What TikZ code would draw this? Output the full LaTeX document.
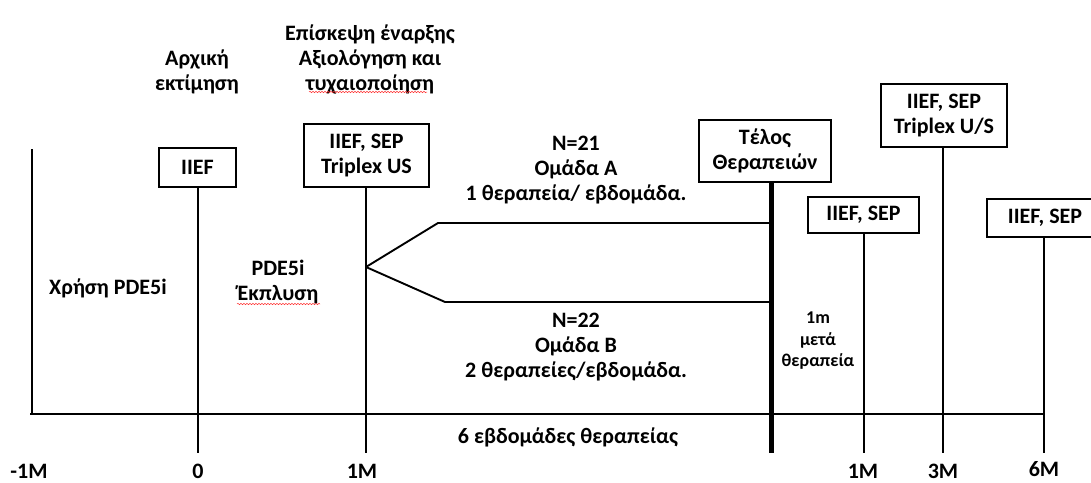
\documentclass[tikz,border=0pt]{standalone}
\usepackage{fontspec}
\setmainfont{Carlito}
\usetikzlibrary{decorations.pathmorphing}

\tikzset{
  every node/.style={font=\bfseries\fontsize{22}{25}\selectfont, align=center, inner sep=0pt},
  small/.style={font=\bfseries\fontsize{18}{21.5}\selectfont},
  box/.style={draw, line width=1.8pt, fill=white},
  line/.style={line width=1.9pt},
  thickline/.style={line width=5pt},
  squiggle/.style={draw=red!80!white, line width=0.5pt, decorate,
    decoration={snake, amplitude=0.7pt, segment length=3pt}},
}

\begin{document}
\begin{tikzpicture}[x=1pt, y=-1pt]
  \useasboundingbox (0,0) rectangle (1091,482);
  \clip (0,0) rectangle (1091,482);

  % assessment boxes
  \node[box, minimum width=77pt, minimum height=39pt] (b0) at (197.5,167.5) {IIEF};
  \node[box, minimum width=125pt, minimum height=63pt] (b1) at (366.5,155.5) {IIEF, SEP\\Triplex US};
  \node[box, minimum width=132pt, minimum height=62pt] (bend) at (765,151) {Τέλος\\Θεραπειών};
  \node[box, minimum width=111pt, minimum height=36pt] (b2) at (863.5,215) {IIEF, SEP};
  \node[box, minimum width=126pt, minimum height=63pt] (b3) at (944,115.5) {IIEF, SEP\\Triplex U/S};
  \node[box, minimum width=116pt, minimum height=38pt] (b4) at (1045,218) {IIEF, SEP};

  % time axis and markers
  \coordinate (ltop) at (32,149);
  \coordinate (lbot) at (32,414);
  \coordinate (axl) at (30,414);
  \coordinate (axr) at (1044,414);
  \coordinate (t0) at (198,453);
  \coordinate (t1) at (366,453);
  \coordinate (tend) at (771,453);
  \coordinate (t2) at (864,453);
  \coordinate (t3) at (943,453);
  \coordinate (t4) at (1044,453);

  \draw[line] (ltop) -- (lbot);
  \draw[line] (axl) -- (axr);
  \draw[line] (b0.south -| t0) -- (t0);
  \draw[line] (b1.south -| t1) -- (t1);
  \draw[thickline] (bend.south -| tend) -- (tend);
  \draw[line] (b2.south -| t2) -- (t2);
  \draw[line] (b3.south -| t3) -- (t3);
  \draw[line] (b4.south -| t4) -- (t4);

  % randomisation fork into the two groups
  \coordinate (fork) at (366,267);
  \coordinate (ua) at (438,223);
  \coordinate (la) at (445,302);
  \draw[line, line join=miter] (fork) -- (ua) -- (ua -| tend);
  \draw[line, line join=miter] (fork) -- (la) -- (la -| tend);

  % labels
  \node (lab0) at (197,72) {Αρχική\\εκτίμηση};
  \node (lab1) at (370,59) {Επίσκεψη έναρξης\\Αξιολόγηση και\\τυχαιοποίηση};
  \node (ga) at (576,170) {N=21\\Ομάδα A\\1 θεραπεία/ εβδομάδα.};
  \node (gb) at (576,347) {N=22\\Ομάδα B\\2 θεραπείες/εβδομάδα.};
  \node (use) at (108,288) {Χρήση PDE5i};
  \node (wash) at (278,282) {PDE5i\\Έκπλυση};
  \node (weeks) at (568,437) {6 εβδομάδες θεραπείας};
  \node[small] (after) at (818,341) {1m\\μετά\\θεραπεία};

  % spelling marks under two words
  \draw[squiggle] (309,92) -- (427,92);
  \draw[squiggle] (237,304) -- (320,304);

  % time labels
  \node (m1) at (29,471) {-1M};
  \node (z0) at (198,471) {0};
  \node (p1) at (362,471) {1M};
  \node (q1) at (863,471) {1M};
  \node (q3) at (943,471) {3M};
  \node (q6) at (1044,469) {6M};
\end{tikzpicture}
\end{document}
